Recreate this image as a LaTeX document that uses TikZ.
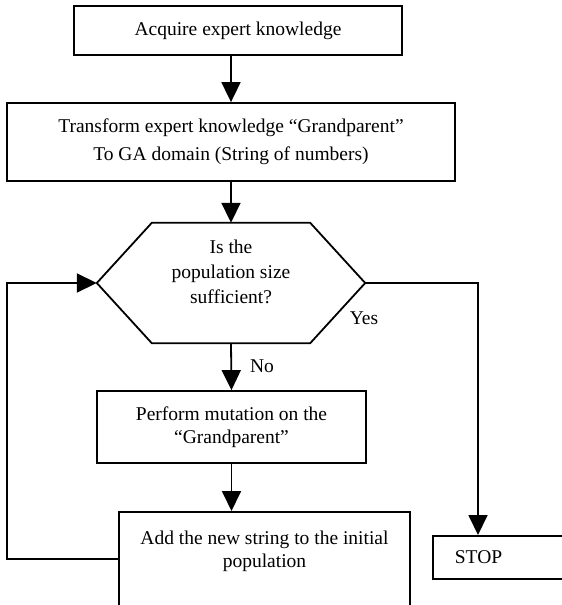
\documentclass[tikz,border=0pt]{standalone}
\usepackage{fontspec}
\setmainfont{Liberation Serif}
\usetikzlibrary{arrows.meta, positioning, calc}

\begin{document}
\begin{tikzpicture}[
    x=1pt, y=-1pt,
    every node/.style={font=\fontsize{19.5}{23}\selectfont},
    box/.style={draw, line width=1.8pt, align=center, inner sep=0pt},
    link/.style={line width=1.8pt},
    flow/.style={link, -{Triangle[length=20pt, width=19pt]}},
]

% ================================================================
% Page is the reference frame: 562 x 605, y grows downwards.
%   main column  x = 231
%   exit column  x = 478
%   loop column  x = 7
% ================================================================

\useasboundingbox (0,0) rectangle (562,605);

% ---------------------------------------------------------------- boxes
\node[box, minimum width=328pt, minimum height=49pt] (acquire) at (238,30.5)
    {Acquire expert knowledge};
\node[box, minimum width=448pt, minimum height=78pt] (transform) at (231,142)
    {Transform expert knowledge “Grandparent”\\[5pt]To GA domain (String of numbers)};

% the decision: a hexagon round an empty node
\node[minimum width=268pt, minimum height=120pt] (test) at (231,283) {};
\draw[link] (test.west) -- ($(test.north west)+(55,0)$) -- ($(test.north east)+(-55,0)$)
    -- (test.east) -- ($(test.south east)+(-55,0)$) -- ($(test.south west)+(55,0)$) -- cycle;
\node[align=center] (question) at (231,272)
    {Is the\\[2pt]population size\\[2pt]sufficient?};

\node[box, minimum width=269pt, minimum height=72pt] (mutate) at (231.5,427)
    {Perform mutation on the\\“Grandparent”};

% runs off the bottom of the page, so no lower edge shows
\node[box, anchor=north, minimum width=291pt, inner ysep=19pt, text depth=70pt] (addnew)
    at (264.5,511) {Add the new string to the initial\\population};

% runs off the right of the page
\node[box, anchor=north west, minimum height=43pt, text width=150pt, align=left,
    inner xsep=22pt] (stop) at (432,535) {STOP};

% ---------------------------------------------------------------- connectors
\coordinate (back) at (7,559);
\coordinate (yes) at (478,283);

\draw[flow] (acquire.south -| transform.north) -- (transform.north);
\draw[flow] (transform.south) -- (test.north);
\draw[flow] (test.south) -- node[right, inner sep=0pt, xshift=18pt] (no) {No} (mutate.north);
\draw[flow] (mutate.south) -- (mutate.south |- addnew.north);
\draw[flow] (addnew.west |- back) -- (back) |- (test.west);
\draw[flow] (test.east) -- (yes) -- (yes |- stop.north);

\node (yeslabel) at (364,318) {Yes};

\end{tikzpicture}
\end{document}
